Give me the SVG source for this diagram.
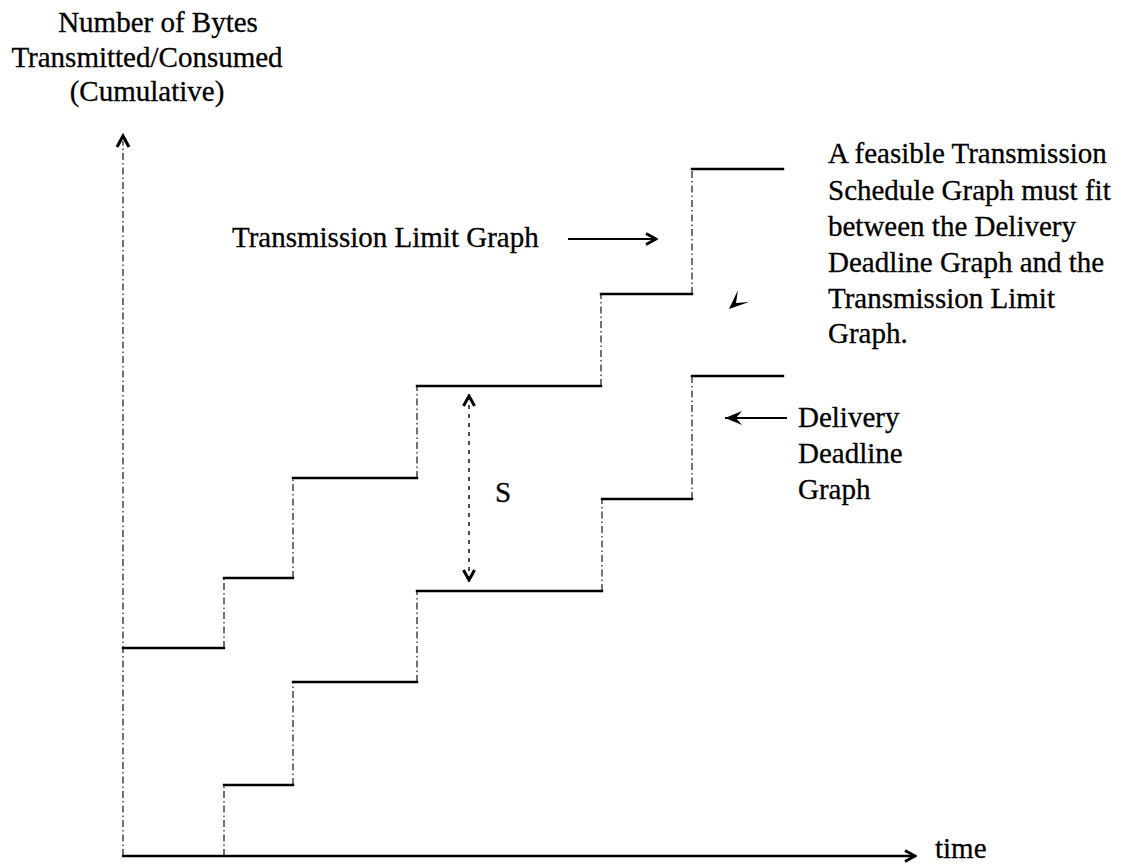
<svg xmlns="http://www.w3.org/2000/svg" width="1126" height="864" viewBox="0 0 1126 864">
  <style>
    .txt { font-family: "Liberation Serif", "Times New Roman", serif; font-size: 29px; fill: #000; stroke: #000; stroke-width: 0.3; }
    .step { stroke: #000; stroke-width: 2.4; fill: none; stroke-linecap: square; }
    .rise { stroke: #000; stroke-width: 1.1; fill: none; stroke-dasharray: 7 3 1.5 3; }
    .axis-solid { stroke: #000; stroke-width: 2.4; fill: none; }
    .axis-dash { stroke: #000; stroke-width: 1.1; fill: none; stroke-dasharray: 7 3 1.5 3; }
    .ptr { stroke: #000; stroke-width: 2; fill: none; }
    .ptr-dash { stroke: #000; stroke-width: 1.4; fill: none; stroke-dasharray: 4 5; }
  </style>
  <defs>
    <!-- open chevron head -->
    <marker id="chev" viewBox="0 0 14 14" refX="12" refY="7" markerWidth="14" markerHeight="14" orient="auto-start-reverse" markerUnits="userSpaceOnUse">
      <path d="M2 1.5 L12 7 L2 12.5" fill="none" stroke="#000" stroke-width="3" stroke-linejoin="miter"/>
    </marker>
    <!-- filled barbed head -->
    <marker id="barb" viewBox="0 0 18 16" refX="17" refY="8" markerWidth="18" markerHeight="16" orient="auto" markerUnits="userSpaceOnUse">
      <path d="M0 1 L17 8 L0 15 L6 8 Z" fill="#000"/>
    </marker>
  </defs>

  <!-- axes -->
  <g id="axes">
    <line class="axis-dash" x1="123" y1="856" x2="123" y2="141"/>
    <path d="M117 147 L123 136 L129 147" fill="none" stroke="#000" stroke-width="3"/>
    <line class="axis-solid" x1="122" y1="856" x2="915" y2="856" marker-end="url(#chev)"/>
  </g>

  <!-- axis titles -->
  <g id="y-axis-title">
    <text class="txt" x="158" y="32" text-anchor="middle">Number of Bytes</text>
    <text class="txt" x="147" y="67" text-anchor="middle">Transmitted/Consumed</text>
    <text class="txt" x="147" y="101" text-anchor="middle">(Cumulative)</text>
  </g>
  <g id="x-axis-title">
    <text class="txt" x="935" y="858">time</text>
  </g>

  <!-- upper staircase: transmission limit -->
  <g id="transmission-limit-graph">
    <line class="step" x1="123" y1="648" x2="224" y2="648"/>
    <line class="rise" x1="224" y1="648" x2="224" y2="578"/>
    <line class="step" x1="224" y1="578" x2="293" y2="578"/>
    <line class="rise" x1="293" y1="578" x2="293" y2="478"/>
    <line class="step" x1="293" y1="478" x2="417" y2="478"/>
    <line class="rise" x1="417" y1="478" x2="417" y2="386"/>
    <line class="step" x1="417" y1="386" x2="601" y2="386"/>
    <line class="rise" x1="601" y1="386" x2="601" y2="294"/>
    <line class="step" x1="601" y1="294" x2="692" y2="294"/>
    <line class="rise" x1="692" y1="294" x2="692" y2="169"/>
    <line class="step" x1="692" y1="169" x2="783" y2="169"/>
  </g>

  <!-- lower staircase: delivery deadline -->
  <g id="delivery-deadline-graph">
    <line class="rise" x1="224" y1="856" x2="224" y2="785"/>
    <line class="step" x1="224" y1="785" x2="293" y2="785"/>
    <line class="rise" x1="293" y1="785" x2="293" y2="682"/>
    <line class="step" x1="293" y1="682" x2="417" y2="682"/>
    <line class="rise" x1="417" y1="682" x2="417" y2="591"/>
    <line class="step" x1="417" y1="591" x2="602" y2="591"/>
    <line class="rise" x1="602" y1="591" x2="602" y2="499"/>
    <line class="step" x1="602" y1="499" x2="692" y2="499"/>
    <line class="rise" x1="692" y1="499" x2="692" y2="376"/>
    <line class="step" x1="692" y1="376" x2="783" y2="376"/>
  </g>

  <!-- labels -->
  <g id="label-transmission-limit">
    <text class="txt" x="232" y="247">Transmission Limit Graph</text>
  </g>
  <g id="label-delivery-deadline">
    <text class="txt" x="798" y="427">Delivery</text>
    <text class="txt" x="798" y="463">Deadline</text>
    <text class="txt" x="798" y="499">Graph</text>
  </g>
  <g id="label-s">
    <text class="txt" x="495" y="502">S</text>
  </g>
  <g id="note-feasible">
    <text class="txt" x="828" y="163">A feasible Transmission</text>
    <text class="txt" x="828" y="200">Schedule Graph must fit</text>
    <text class="txt" x="828" y="236">between the Delivery</text>
    <text class="txt" x="828" y="272">Deadline Graph and the</text>
    <text class="txt" x="828" y="308">Transmission Limit</text>
    <text class="txt" x="828" y="343">Graph.</text>
  </g>

  <!-- pointers -->
  <g id="connectors">
    <line class="ptr" x1="568" y1="239" x2="656" y2="239" marker-end="url(#chev)"/>
    <line class="ptr" x1="787" y1="418" x2="725" y2="418" marker-end="url(#barb)"/>
    <line class="ptr-dash" x1="469" y1="396" x2="469" y2="580" marker-start="url(#chev)" marker-end="url(#chev)"/>
    <path d="M738 290 L729 309 L749 302 L736 303 Z" fill="#000"/>
  </g>
</svg>
